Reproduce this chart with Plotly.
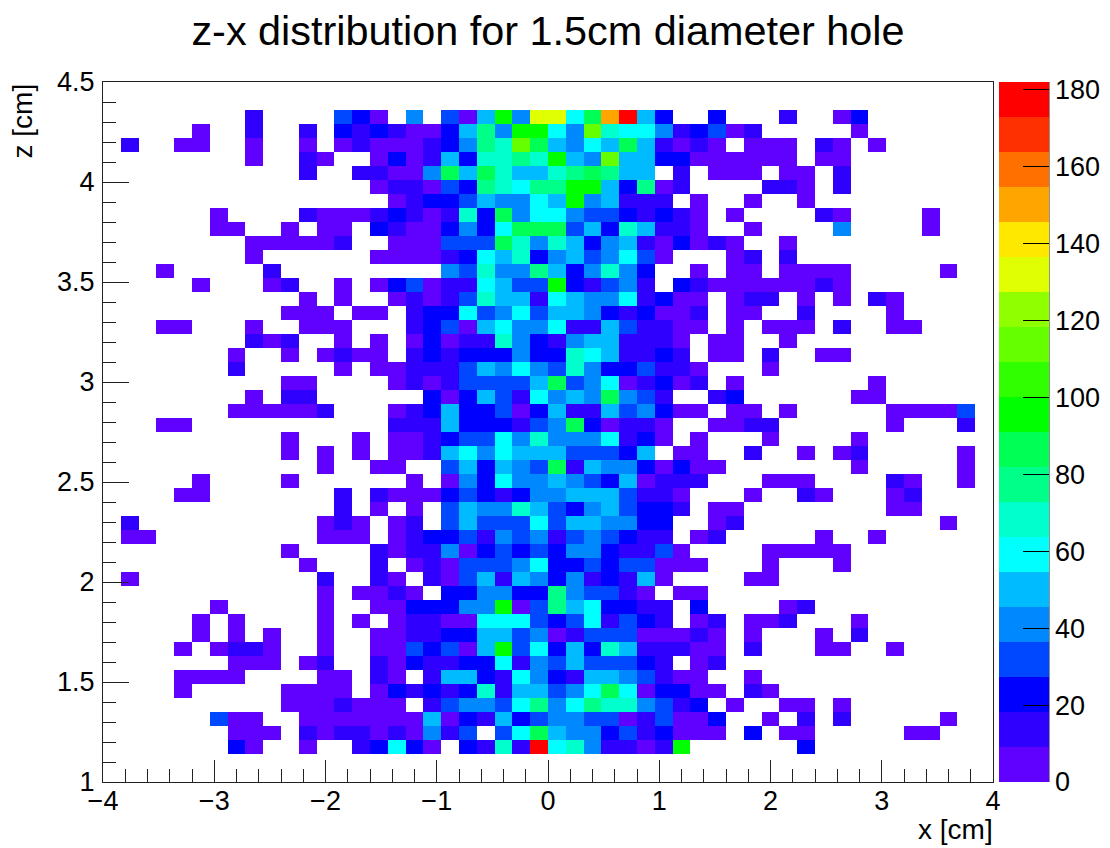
import plotly.graph_objects as go

x_edges = [-4 + 0.16 * i for i in range(51)]
z_edges = [1 + 0.07 * i for i in range(51)]
x_ticks = [-4, -3, -2, -1, 0, 1, 2, 3, 4]
z_ticks = [1, 1.5, 2, 2.5, 3, 3.5, 4, 4.5]
cbar_ticks = [0, 20, 40, 60, 80, 100, 120, 140, 160, 180]
band_codes = "0123456789abcdefghij"
band_counts = [5, 14, 23, 32, 41, 50, 59, 68, 77, 86, 96, 105, 114, 123, 132, 141, 150, 159, 168, 177]
band_colors = ["#6000ff", "#3000ff", "#0000ff", "#0048ff", "#0088ff", "#00bbff", "#00ffff", "#00ffcc",
               "#00ff88", "#00ff55", "#00ff00", "#30ff00", "#66ff00", "#90ff00", "#e0ff00", "#ffe800",
               "#ffa500", "#ff7000", "#ff3000", "#ff0000"]

# Colour band read per cell, from the top row (z near 4.5) down; '.' = empty cell
rows_top_down = [
    ".......... .......... .......... .......... ..........",  # 49
    ".......... .......... .......... .......... ..........",  # 48
    "........1. ...320.4.3 05a4ee69gj 52..2...1. .02.......",  # 47
    ".....0..1. .1.2121002 584aa64c76 6412301... ..0.......",  # 46
    ".1..00..0. .0.0100012 487c954659 51010.000. 10.0......",  # 45
    "........0. .10..02015 27787a54c5 522000000. 00........",  # 44
    ".......... .1..110049 5975578985 5.1.000.00 .1........",  # 43
    ".......... .....01103 287688aa52 801....110 .1........",  # 42
    ".......... ......0122 354465a451 11.0..0..0 ..........",  # 41
    "......0... .100012101 7294664332 1210.0.... 10....0...",  # 40
    "......00.. 0.00.21002 4269993527 5110..0... .4....0...",  # 39
    "........00 0001..0003 3397475245 102010..0. ..........",  # 38
    "........0. .....00001 2657245346 30...01.1. ..........",  # 37
    "...0.....1 .........4 3744852474 2..0.00.00 00.....0..",  # 36
    ".....0...0 1..0.02301 16533a2134 1.21000000 10........",  # 35
    ".......... .0.0..0101 3755165446 1200.011.0 .0.10.....",  # 34
    ".......... 000.00.122 6346355421 2001.00..1 ....0.....",  # 33
    "...00...0. .000...123 0564461153 1100.0.000 .1..00....",  # 32
    "........10 1..0.0.020 1174214551 110.00..0. ..........",  # 31
    ".......0.. 0.0100.121 2224227651 121.00.1.. 00........",  # 30
    ".......1.. ...0.00111 3546437422 3110...0.. ..........",  # 29
    ".......... 00....0101 3333593460 1201.0.... ...0......",  # 28
    "........0. 11......20 2531645494 31..12.... ..00......",  # 27
    ".......000 001...0125 2230251153 4200.00.0. ....00003.",  # 26
    "...00..... ......1115 2221349201 10..0011.. ....0...1.",  # 25
    ".......... 0...0.0012 3364744461 20.0...0.. ..0.......",  # 24
    ".......... 0.0.0.0015 6465553332 5.00..1..0 .01.....0.",  # 23
    ".......... ..0..00..3 5254391544 20200..... ..0.....0.",  # 22
    ".....0.... 0......0.0 4264454325 0111...000 ....10..0.",  # 21
    "....00.... ...1.10002 3212445553 110...0..1 0...01....",  # 20
    ".......... ...1.0.0.3 5447532453 221.00.... ....00....",  # 19
    ".1........ ..010.01.3 5333635544 22..01.... .......0..",  # 18
    ".00....... ..000.0122 3143413432 11.01..... 0..0......",  # 17
    ".......... 0....10114 0232324421 130....000 00........",  # 16
    ".......... .0...1.010 3334622323 3000...0.. .0........",  # 15
    ".0........ ..1..10.10 3515424121 50....00.. ..........",  # 14
    ".......... ..0.0010.2 2442284331 0.00...... ..........",  # 13
    "......0... ..0..00222 44a0385622 11.2....01 ..........",  # 12
    ".....0.0.. ..0.0.0110 0666323613 21.01.001. ..0.......",  # 11
    ".....0.0.0 ..0..00112 2553401333 00010.0... 0.1.......",  # 10
    "....0.0110 ..0..00323 05a3625275 11100.1... 00..0.....",  # 9
    ".......000 .01..10211 2261435333 21.01..... ..........",  # 8
    "....0000.. ..00.10.15 5216421554 3100..0... ..........",  # 7
    "....0..... 0000.02121 2715534696 02200.10.. ..........",  # 6
    ".......... 0001000.13 4436846877 4312.0..00 .0........",  # 5
    "......300. .000000050 2152344330 13002..0.1 .1.....0..",  # 4
    ".......000 .101101041 3.36954423 12000.2.00 .....00...",  # 3
    ".......20. .0..12620. 2171j67411 01a......2 ..........",  # 2
    ".......... .......... .......... .......... ..........",  # 1
    ".......... .......... .......... .......... ..........",  # 0
]

z_counts = []
for row in reversed(rows_top_down):
    cells = row.replace(" ", "")
    assert len(cells) == 50, row
    z_counts.append([None if c == "." else band_counts[band_codes.index(c)] for c in cells])

colorscale = []
for i, c in enumerate(band_colors):
    colorscale.append([i / 20, c])
    colorscale.append([(i + 1) / 20, c])

PAGE = 8  # the page's own body margin
W, H = 1110 - PAGE, 848 - PAGE
L, R, T, B = 103 - PAGE, 993 - PAGE, 82 - PAGE, 782 - PAGE
FONT = "Liberation Sans"
TICK = 27
BAR_X = 999 - PAGE
BAR_END = 1049 - PAGE


def px(v):
    return (v - L) / (R - L)


fig = go.Figure(go.Heatmap(
    x=x_edges, y=z_edges, z=z_counts, zmin=0, zmax=182, colorscale=colorscale,
    hoverongaps=False,
    colorbar=dict(
        x=px(BAR_X), xanchor="left", xpad=0, y=0, yanchor="bottom", ypad=0,
        len=1, lenmode="fraction", thickness=50, thicknessmode="pixels", outlinewidth=0,
        tickmode="array", tickvals=cbar_ticks, ticks="inside", ticklen=26, tickwidth=1,
        tickcolor="black", tickfont=dict(family=FONT, size=TICK, color="black"),
    ),
))

axis_common = dict(showgrid=False, zeroline=False, showline=True, mirror=True, linecolor="#222222",
                   linewidth=1, ticks="inside", tickcolor="#222222", tickwidth=1,
                   automargin=False, tickfont=dict(family=FONT, size=TICK, color="black"))
fig.update_xaxes(range=[-4, 4], tickmode="array", tickvals=x_ticks, ticklen=22,
                 ticklabelstandoff=-5,
                 minor=dict(dtick=0.2, ticks="inside", ticklen=13, tickcolor="#222222", tickwidth=1, showgrid=False),
                 **axis_common)
fig.update_yaxes(range=[1, 4.5], tickmode="array", tickvals=z_ticks, ticklen=26,
                 ticklabelstandoff=2,
                 minor=dict(dtick=0.1, ticks="inside", ticklen=13, tickcolor="#222222", tickwidth=1, showgrid=False),
                 **axis_common)

fig.update_layout(
    width=W, height=H, autosize=False,
    margin=dict(l=L, r=W - R, t=T, b=H - B, autoexpand=False),
    plot_bgcolor="white", paper_bgcolor="white", font=dict(family=FONT, color="black"),
    title=dict(text="z-x distribution for 1.5cm diameter hole", x=(548 - PAGE) / W, xanchor="center",
               y=1 - (30 - PAGE) / H, yanchor="middle", font=dict(family=FONT, size=41.4, color="black")),
    annotations=[
        dict(text="x [cm]", xref="paper", yref="paper", x=1, y=0, xanchor="right", yanchor="top",
             xshift=2, yshift=-30, showarrow=False, font=dict(family=FONT, size=28, color="black")),
        dict(text="z [cm]", xref="paper", yref="paper", x=0, y=1, xanchor="center", yanchor="top",
             xshift=-81, textangle=-90, showarrow=False, font=dict(family=FONT, size=28, color="black")),
    ],
    shapes=[dict(type="line", xref="paper", yref="paper", x0=px(BAR_END), x1=px(BAR_END),
                 y0=0, y1=1, line=dict(color="#222222", width=1))],
)
fig.write_html("out.html")
